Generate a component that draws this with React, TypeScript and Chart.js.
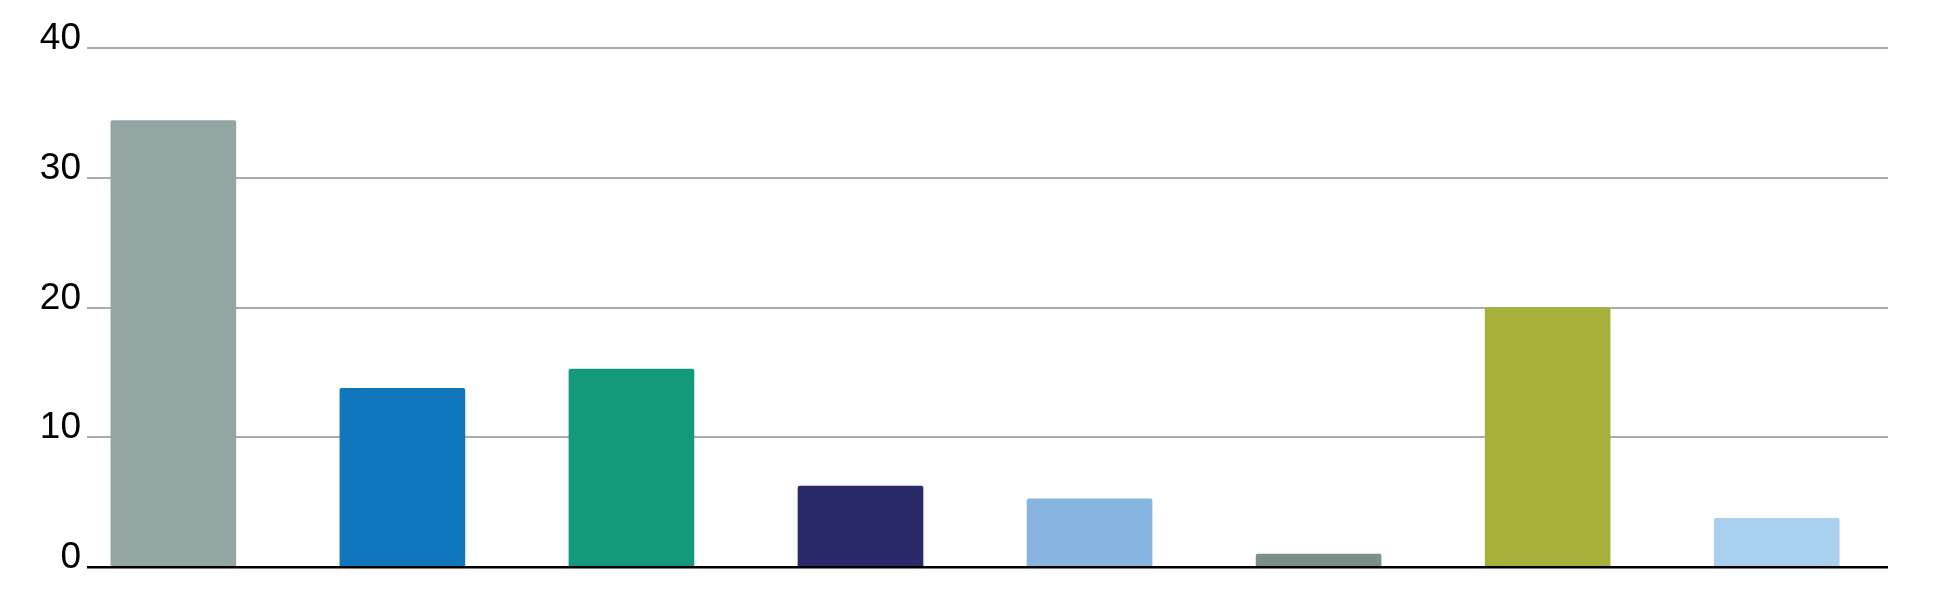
import React, { useEffect, useRef } from "react";
import { Chart, registerables } from "chart.js";

Chart.register(...registerables);

const categories = ["1", "2", "3", "4", "5", "6", "7", "8"];
const values = [34.4, 13.77, 15.26, 6.24, 5.26, 1.0, 20.0, 3.75];
const barColors = [
  "#93a6a3",
  "#0f76bc",
  "#149a7a",
  "#282a6a",
  "#88b4e1",
  "#7c8f8b",
  "#a7b03a",
  "#a9cfee",
];
const yTicks = [0, 10, 20, 30, 40];

export default function App() {
  const ref = useRef<HTMLCanvasElement | null>(null);

  useEffect(() => {
    if (!ref.current) return;
    const chart = new Chart(ref.current, {
      type: "bar",
      data: {
        labels: categories,
        datasets: [
          {
            data: categories.map((c, i) => ({ x: i, y: values[i] })) as any,
            backgroundColor: barColors,
            borderWidth: 0,
            borderRadius: { topLeft: 2, topRight: 2, bottomLeft: 0, bottomRight: 0 },
            borderSkipped: "start",
            barThickness: 125,
          },
        ],
      },
      options: {
        animation: false,
        responsive: true,
        maintainAspectRatio: false,
        layout: { padding: { top: 48, bottom: 29, right: 60, left: 0 } },
        plugins: { legend: { display: false }, tooltip: { enabled: false } },
        scales: {
          x: {
            type: "linear",
            offset: false,
            min: -0.377,
            max: 7.486,
            display: false,
          },
          y: {
            min: 0,
            max: 40,
            afterBuildTicks: (scale: any) => {
              scale.ticks = yTicks.map((v) => ({ value: v }));
            },
            afterFit: (scale: any) => {
              scale.width = 87;
            },
            border: { display: false },
            grid: {
              drawTicks: false,
              color: (ctx: any) => (ctx.tick && ctx.tick.value === 0 ? "#000000" : "#a9abae"),
              lineWidth: (ctx: any) => (ctx.tick && ctx.tick.value === 0 ? 2.5 : 2),
            },
            ticks: {
              color: "#000000",
              padding: 6,
              labelOffset: -9,
              font: { family: "'Liberation Sans', Arial, sans-serif", size: 37 },
            },
          },
        },
      },
    });
    return () => chart.destroy();
  }, []);

  return (
    <div style={{ position: "fixed", left: 0, top: 0, width: 1948, height: 596, background: "#ffffff" }}>
      <canvas ref={ref} />
    </div>
  );
}
